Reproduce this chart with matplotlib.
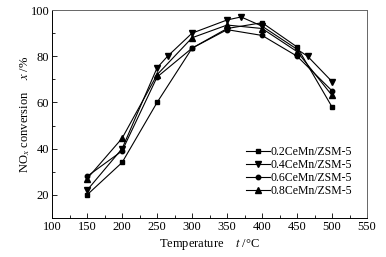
import matplotlib
matplotlib.use('Agg')
import matplotlib.pyplot as plt
from matplotlib.ticker import MultipleLocator

plt.rcParams['font.family'] = ['Liberation Serif', 'DejaVu Serif']
plt.rcParams['mathtext.fontset'] = 'stix'

t_02 = [150, 200, 250, 300, 350, 400, 450, 500]
x_02 = [20, 34, 60, 83.5, 92, 94.5, 84, 58]
t_04 = [150, 200, 250, 265, 300, 350, 370, 400, 465, 500]
x_04 = [22, 40, 75, 80, 90, 95.7, 97, 93, 80, 69]
t_06 = [150, 200, 250, 300, 350, 400, 450, 500]
x_06 = [28, 39, 71, 83.5, 91.5, 89, 80, 65]
t_08 = [150, 200, 250, 300, 350, 400, 450, 500]
x_08 = [27, 44.5, 72, 88, 93.5, 92, 82, 63]
labels = ['0.2CeMn/ZSM-5', '0.4CeMn/ZSM-5', '0.6CeMn/ZSM-5', '0.8CeMn/ZSM-5']

fig = plt.figure(figsize=(3.86, 2.57), dpi=100)
ax = fig.add_axes([0.135, 0.152, 0.816, 0.809])

ax.plot(t_02, x_02, color='k', lw=0.8, marker='s', ms=3.2, label=labels[0])
ax.plot(t_04, x_04, color='k', lw=0.8, marker='v', ms=3.8, label=labels[1])
ax.plot(t_06, x_06, color='k', lw=0.8, marker='o', ms=3.2, label=labels[2])
ax.plot(t_08, x_08, color='k', lw=0.8, marker='^', ms=3.8, label=labels[3])

ax.set_xlim(100, 550)
ax.set_ylim(10, 100)
ax.xaxis.set_major_locator(MultipleLocator(50))
ax.xaxis.set_minor_locator(MultipleLocator(25))
ax.set_yticks([20, 40, 60, 80, 100])
ax.yaxis.set_minor_locator(MultipleLocator(10))
ax.tick_params(which='both', direction='in', top=False, right=False, labelsize=9, width=0.6, pad=2)
ax.tick_params(which='major', length=3.5)
ax.tick_params(which='minor', length=2)
for s in ax.spines.values():
    s.set_linewidth(0.7)
    s.set_color('#666666')
ax.spines['left'].set_color('k')
ax.spines['bottom'].set_color('k')

ax.set_xlabel('Temperature    $t$ /°C', fontsize=9, labelpad=3)
ax.set_ylabel('NO$_x$ conversion    $x$ /%', fontsize=9, labelpad=-1)

ax.legend(loc='lower right', bbox_to_anchor=(0.98, 0.06), frameon=False, fontsize=8.5,
          handlelength=2.0, handletextpad=0.1, labelspacing=0.1, borderpad=0.2)

fig.savefig('out.png', dpi=100)
